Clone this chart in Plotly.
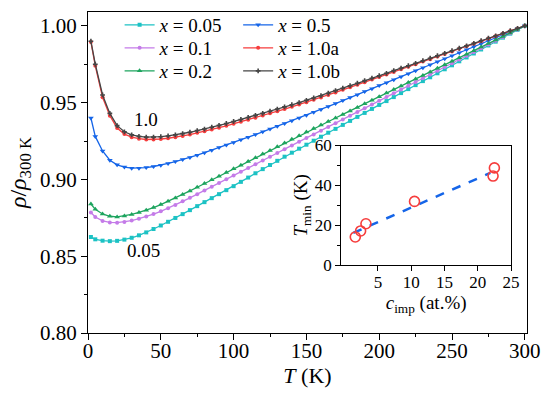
import plotly.graph_objects as go

# ---------------- data ----------------
T = [2, 5, 10, 15, 20, 25, 30, 35, 40, 45, 50, 55, 60, 65, 70, 75, 80, 85, 90, 95,
     100, 105, 110, 115, 120, 125, 130, 135, 140, 145, 150, 155, 160, 165, 170, 175,
     180, 185, 190, 195, 200, 205, 210, 215, 220, 225, 230, 235, 240, 245, 250, 255,
     260, 265, 270, 275, 280, 285, 290, 295, 300]

rho_005 = [0.8625, 0.861, 0.8601, 0.8598, 0.86, 0.8608, 0.862, 0.8636, 0.8655, 0.8677,
           0.87, 0.8724, 0.8749, 0.8774, 0.88, 0.8826, 0.8852, 0.8878, 0.8904, 0.893,
           0.8956, 0.8984, 0.9012, 0.904, 0.9067, 0.9094, 0.9121, 0.9148, 0.9174, 0.92,
           0.9226, 0.9252, 0.9278, 0.9304, 0.9329, 0.9355, 0.9381, 0.9407, 0.9433, 0.9459,
           0.9485, 0.951, 0.9536, 0.9562, 0.9588, 0.9614, 0.964, 0.9665, 0.9691, 0.9717,
           0.9743, 0.9769, 0.9794, 0.982, 0.9846, 0.9872, 0.9897, 0.9923, 0.9949, 0.9974, 1.0]

rho_01 = [0.8785, 0.8755, 0.873, 0.872, 0.8718, 0.8723, 0.8732, 0.8744, 0.8758, 0.8774,
          0.8792, 0.8812, 0.8834, 0.8857, 0.888, 0.8904, 0.8928, 0.8952, 0.8977, 0.9001,
          0.9025, 0.905, 0.9074, 0.9099, 0.9123, 0.9148, 0.9172, 0.9197, 0.9221, 0.9245,
          0.9269, 0.9293, 0.9317, 0.9341, 0.9366, 0.939, 0.9415, 0.9439, 0.9463, 0.9488,
          0.9512, 0.9537, 0.9561, 0.9585, 0.961, 0.9634, 0.9659, 0.9683, 0.9707, 0.9732,
          0.9756, 0.9781, 0.9805, 0.9829, 0.9854, 0.9878, 0.9903, 0.9927, 0.9951, 0.9976, 1.0]

rho_02 = [0.884, 0.8805, 0.8775, 0.876, 0.8756, 0.8762, 0.8772, 0.8785, 0.88, 0.8817,
          0.8836, 0.8857, 0.8879, 0.8902, 0.8925, 0.8949, 0.8973, 0.8997, 0.9021, 0.9045,
          0.9069, 0.9093, 0.9117, 0.9141, 0.9165, 0.9189, 0.9213, 0.9237, 0.9261, 0.9285,
          0.9308, 0.9331, 0.9354, 0.9377, 0.94, 0.9423, 0.9446, 0.9469, 0.9492, 0.9515,
          0.9539, 0.9562, 0.9585, 0.9608, 0.9631, 0.9654, 0.9677, 0.97, 0.9723, 0.9746,
          0.9769, 0.9792, 0.9815, 0.9838, 0.9862, 0.9885, 0.9908, 0.9931, 0.9954, 0.9977, 1.0]

rho_05 = [0.940, 0.928, 0.9185, 0.9125, 0.9095, 0.908, 0.9073, 0.9073, 0.9077, 0.9084,
          0.9093, 0.9104, 0.9116, 0.9129, 0.9143, 0.9158, 0.9174, 0.919, 0.9207, 0.9224,
          0.9241, 0.9258, 0.9275, 0.9292, 0.931, 0.9328, 0.9346, 0.9364, 0.9382, 0.94,
          0.9418, 0.9437, 0.9455, 0.9474, 0.9494, 0.9513, 0.9533, 0.9552, 0.9572, 0.9591,
          0.9611, 0.963, 0.9649, 0.9669, 0.9688, 0.9708, 0.9727, 0.9747, 0.9766, 0.9786,
          0.9805, 0.9825, 0.9844, 0.9864, 0.9883, 0.9903, 0.9922, 0.9942, 0.9961, 0.9981, 1.0]

rho_10a = [0.9895, 0.974, 0.9535, 0.9415, 0.9335, 0.9295, 0.9275, 0.9265, 0.926, 0.926,
           0.9263, 0.9268, 0.9275, 0.9283, 0.9292, 0.9303, 0.9313, 0.9325, 0.9337, 0.9349,
           0.9362, 0.9375, 0.9388, 0.9402, 0.9416, 0.943, 0.9444, 0.9458, 0.9473, 0.9488,
           0.9503, 0.9518, 0.9533, 0.955, 0.9566, 0.9583, 0.96, 0.9617, 0.9633, 0.965,
           0.9667, 0.9683, 0.97, 0.9717, 0.9733, 0.975, 0.9767, 0.9783, 0.98, 0.9817,
           0.9833, 0.985, 0.9867, 0.9883, 0.99, 0.9917, 0.9933, 0.995, 0.9967, 0.9983, 1.0]

rho_10b = [0.990, 0.975, 0.955, 0.943, 0.935, 0.931, 0.929, 0.928, 0.9275, 0.9275,
           0.9278, 0.9283, 0.929, 0.9298, 0.9307, 0.9318, 0.9328, 0.934, 0.9352, 0.9364,
           0.9377, 0.939, 0.9403, 0.9417, 0.943, 0.9444, 0.9458, 0.9472, 0.9486, 0.95,
           0.9515, 0.953, 0.9545, 0.9561, 0.9578, 0.9594, 0.961, 0.9626, 0.9643, 0.9659,
           0.9675, 0.9691, 0.9708, 0.9724, 0.974, 0.9756, 0.9773, 0.9789, 0.9805, 0.9821,
           0.9838, 0.9854, 0.987, 0.9886, 0.9903, 0.9919, 0.9935, 0.9951, 0.9968, 0.9984, 1.0]

# inset data
c_imp = [1.6, 2.4, 3.2, 10.5, 22.3, 22.5]
T_min = [14.2, 17.2, 20.8, 32.0, 44.7, 48.8]
fit_c = [1.3, 21.9]
fit_T = [16.2, 46.3]

x_ticks = [0, 50, 100, 150, 200, 250, 300]
y_ticks = [0.80, 0.85, 0.90, 0.95, 1.00]
inset_x_ticks = [5, 10, 15, 20, 25]
inset_y_ticks = [0, 20, 40, 60]

FONT = "Liberation Serif"

# (name, values, colour, marker, marker size, legend id, legend column x, legend row y)
series = [
    ("<i>x</i> = 0.05", rho_005, "#1CC2C4", "square", 4, "legend", 0.072, 0.9595),
    ("<i>x</i> = 0.5", rho_05, "#1565E8", "triangle-down", 5, "legend2", 0.342, 0.9595),
    ("<i>x</i> = 0.1", rho_01, "#C47BE8", "circle", 4, "legend3", 0.072, 0.8879),
    ("<i>x</i> = 1.0a", rho_10a, "#F63D3D", "circle", 4, "legend4", 0.342, 0.8879),
    ("<i>x</i> = 0.2", rho_02, "#1DA45E", "triangle-up", 5, "legend5", 0.072, 0.8162),
    ("<i>x</i> = 1.0b", rho_10b, "#454545", "cross", 4, "legend6", 0.342, 0.8162),
]

fig = go.Figure()
legend_layouts = {}
for name, y, col, sym, ms, lg, lx, ly in series:
    fig.add_trace(go.Scatter(
        x=T, y=y, name=name, mode="lines+markers",
        line=dict(color=col, width=1.3),
        marker=dict(symbol=sym, size=ms, color=col),
        legend=lg, xaxis="x", yaxis="y"))
    legend_layouts[lg] = dict(x=lx, y=ly, xanchor="left", yanchor="middle",
                              bgcolor="rgba(0,0,0,0)", font=dict(size=19),
                              tracegroupgap=0, itemwidth=30)

fig.add_trace(go.Scatter(
    x=fit_c, y=fit_T, mode="lines", showlegend=False,
    line=dict(color="#1565E8", width=2.5, dash="dash"),
    xaxis="x2", yaxis="y2"))
fig.add_trace(go.Scatter(
    x=c_imp, y=T_min, mode="markers", showlegend=False,
    marker=dict(symbol="circle-open", size=10, color="#F63D3D",
                line=dict(width=1.6, color="#F63D3D")),
    xaxis="x2", yaxis="y2"))

axis_common = dict(showline=True, linecolor="black", linewidth=1.2, mirror=True,
                   ticks="outside", tickcolor="black", showgrid=False, zeroline=False,
                   automargin=False)

fig.update_layout(
    width=550, height=395, autosize=False,
    margin=dict(l=88, r=23, t=12, b=62, autoexpand=False),
    paper_bgcolor="white", plot_bgcolor="white",
    font=dict(family=FONT, size=21, color="black"),
    xaxis=dict(range=[0, 301.5], tickvals=x_ticks, ticklen=6, tickwidth=1.2,
               ticklabelstandoff=-7,
               minor=dict(ticks="outside", ticklen=3, tickwidth=1.2, dtick=25, tick0=0),
               title=dict(text="<i>T</i> (K)", font=dict(size=22), standoff=0),
               domain=[0, 1], **axis_common),
    yaxis=dict(range=[0.8, 1.009], tickvals=y_ticks, tickformat=".2f", ticklen=6,
               tickwidth=1.2,
               minor=dict(ticks="outside", ticklen=3, tickwidth=1.2, dtick=0.025, tick0=0.8),
               title=dict(text="<i>ρ</i>/<i>ρ</i><sub>300 K</sub>", font=dict(size=24), standoff=6),
               domain=[0, 1], **axis_common),
    xaxis2=dict(range=[-0.5, 25], tickvals=inset_x_ticks, ticklen=5, tickwidth=1.1,
                ticklabelstandoff=-4,
                anchor="y2", domain=[0.577, 0.9636], tickfont=dict(size=17),
                title=dict(text="<i>c</i><sub>imp</sub> (at.%)", font=dict(size=19), standoff=0),
                **axis_common),
    yaxis2=dict(range=[0, 60], tickvals=inset_y_ticks, ticklen=5, tickwidth=1.1,
                minor=dict(ticks="outside", ticklen=3, tickwidth=1.1, dtick=10, tick0=0),
                anchor="x2", domain=[0.211, 0.584], tickfont=dict(size=17),
                title=dict(text="<i>T</i><sub>min</sub> (K)", font=dict(size=19), standoff=2),
                **axis_common),
    annotations=[
        dict(x=40, y=0.939, xref="x", yref="y", text="1.0", showarrow=False,
             font=dict(size=19)),
        dict(x=38, y=0.854, xref="x", yref="y", text="0.05", showarrow=False,
             font=dict(size=19)),
    ],
    showlegend=True,
)
fig.update_layout(**legend_layouts)

fig.write_html("out.html", config={"displayModeBar": False},
               post_script="document.body.style.margin='0';document.body.style.padding='0';")
